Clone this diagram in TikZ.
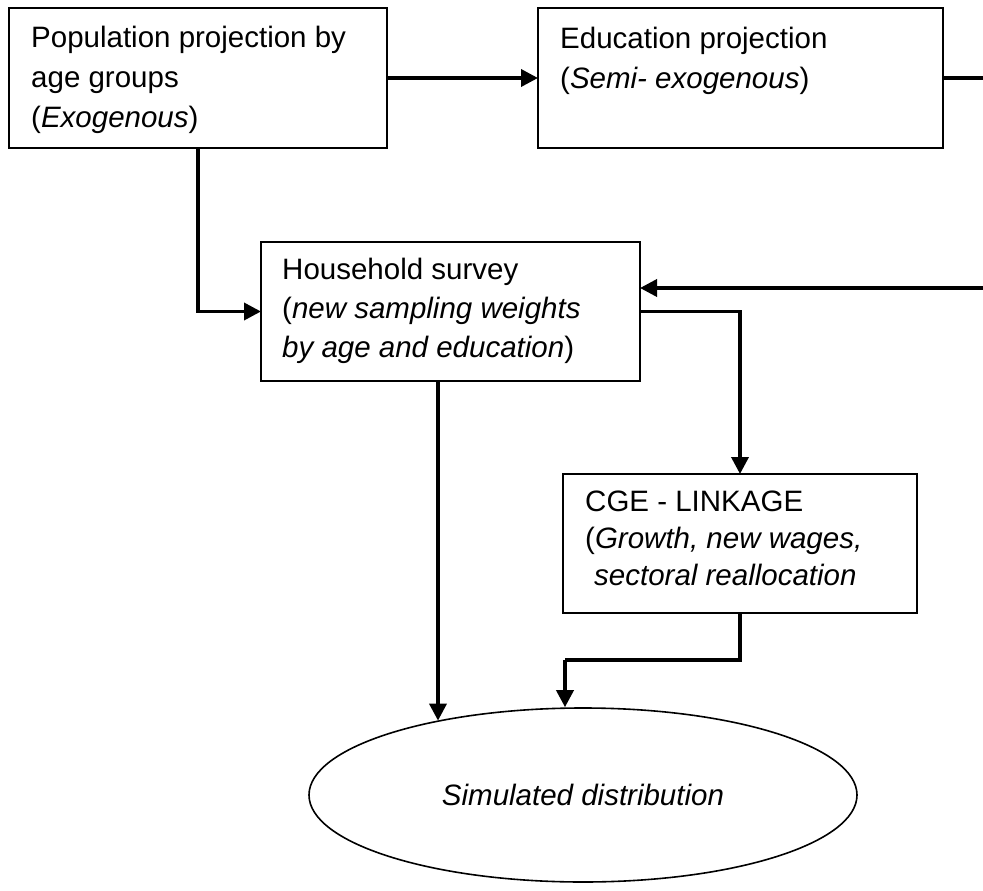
\documentclass[tikz,border=0pt]{standalone}
\usepackage{fontspec}
\setmainfont{Liberation Sans}
\usetikzlibrary{arrows.meta,shapes.geometric,calc}
\begin{document}
\begin{tikzpicture}[x=1pt,y=-1pt,
  box/.style={draw, line width=1.4pt, rectangle, inner sep=0pt, outer sep=0pt, anchor=north west},
  txt/.style={anchor=north west, inner sep=0pt, align=left, font=\fontsize{29.5}{40}\selectfont},
  conn/.style={line width=3.6pt},
  arr/.style={conn, -{Triangle[length=17pt,width=17pt]}}
]
\useasboundingbox (0,0) rectangle (983,891);
% boxes
\node[box, minimum width=378pt, minimum height=140pt] (A) at (9,8) {};
\node[box, minimum width=405pt, minimum height=140pt] (B) at (538,8) {};
\node[box, minimum width=379pt, minimum height=139pt] (C) at (261,242) {};
\node[box, minimum width=354pt, minimum height=139pt] (D) at (563,474) {};
\node[draw, line width=1.6pt, ellipse, minimum width=548pt, minimum height=174pt, inner sep=0pt,
      font=\fontsize{29.5}{40}\selectfont\itshape] (E) at (583,795) {Simulated distribution};
% texts
\node[txt] (tA) at (31,19) {\strut Population projection by\\age groups\\(\textit{Exogenous})};
\node[txt] (tB) at (560,20) {\strut Education projection\\(\textit{Semi- exogenous})};
\node[txt, font=\fontsize{29.5}{39}\selectfont] (tC) at (282,252) {\strut Household survey\\(\textit{new sampling weights}\\\textit{by age and education})};
\node[txt, font=\fontsize{29.5}{37}\selectfont] (tD) at (585,485) {\strut CGE - LINKAGE\\(\textit{Growth, new wages,}\\\hspace*{9pt}\textit{sectoral reallocation}};
% free ends at the right edge
\coordinate (outR1) at (983,78);
\coordinate (outR2) at (983,288);
\coordinate (cC) at (438,381);
\coordinate (cD) at (565,660);
% connectors
\draw[arr] (A.east) -- (B.west);
\draw[conn] (B.east) -- (outR1);
\draw[arr] (outR2) -- (outR2 -| C.east);
\draw[arr] (A.south) |- (C.west);
\draw[arr] (C.east) -| (D.north);
\draw[arr] (cC) -- (cC |- E.153);
\draw[conn] (D.south) |- (cD);
\draw[arr] (cD) -- (cD |- E.north);
\end{tikzpicture}
\end{document}
